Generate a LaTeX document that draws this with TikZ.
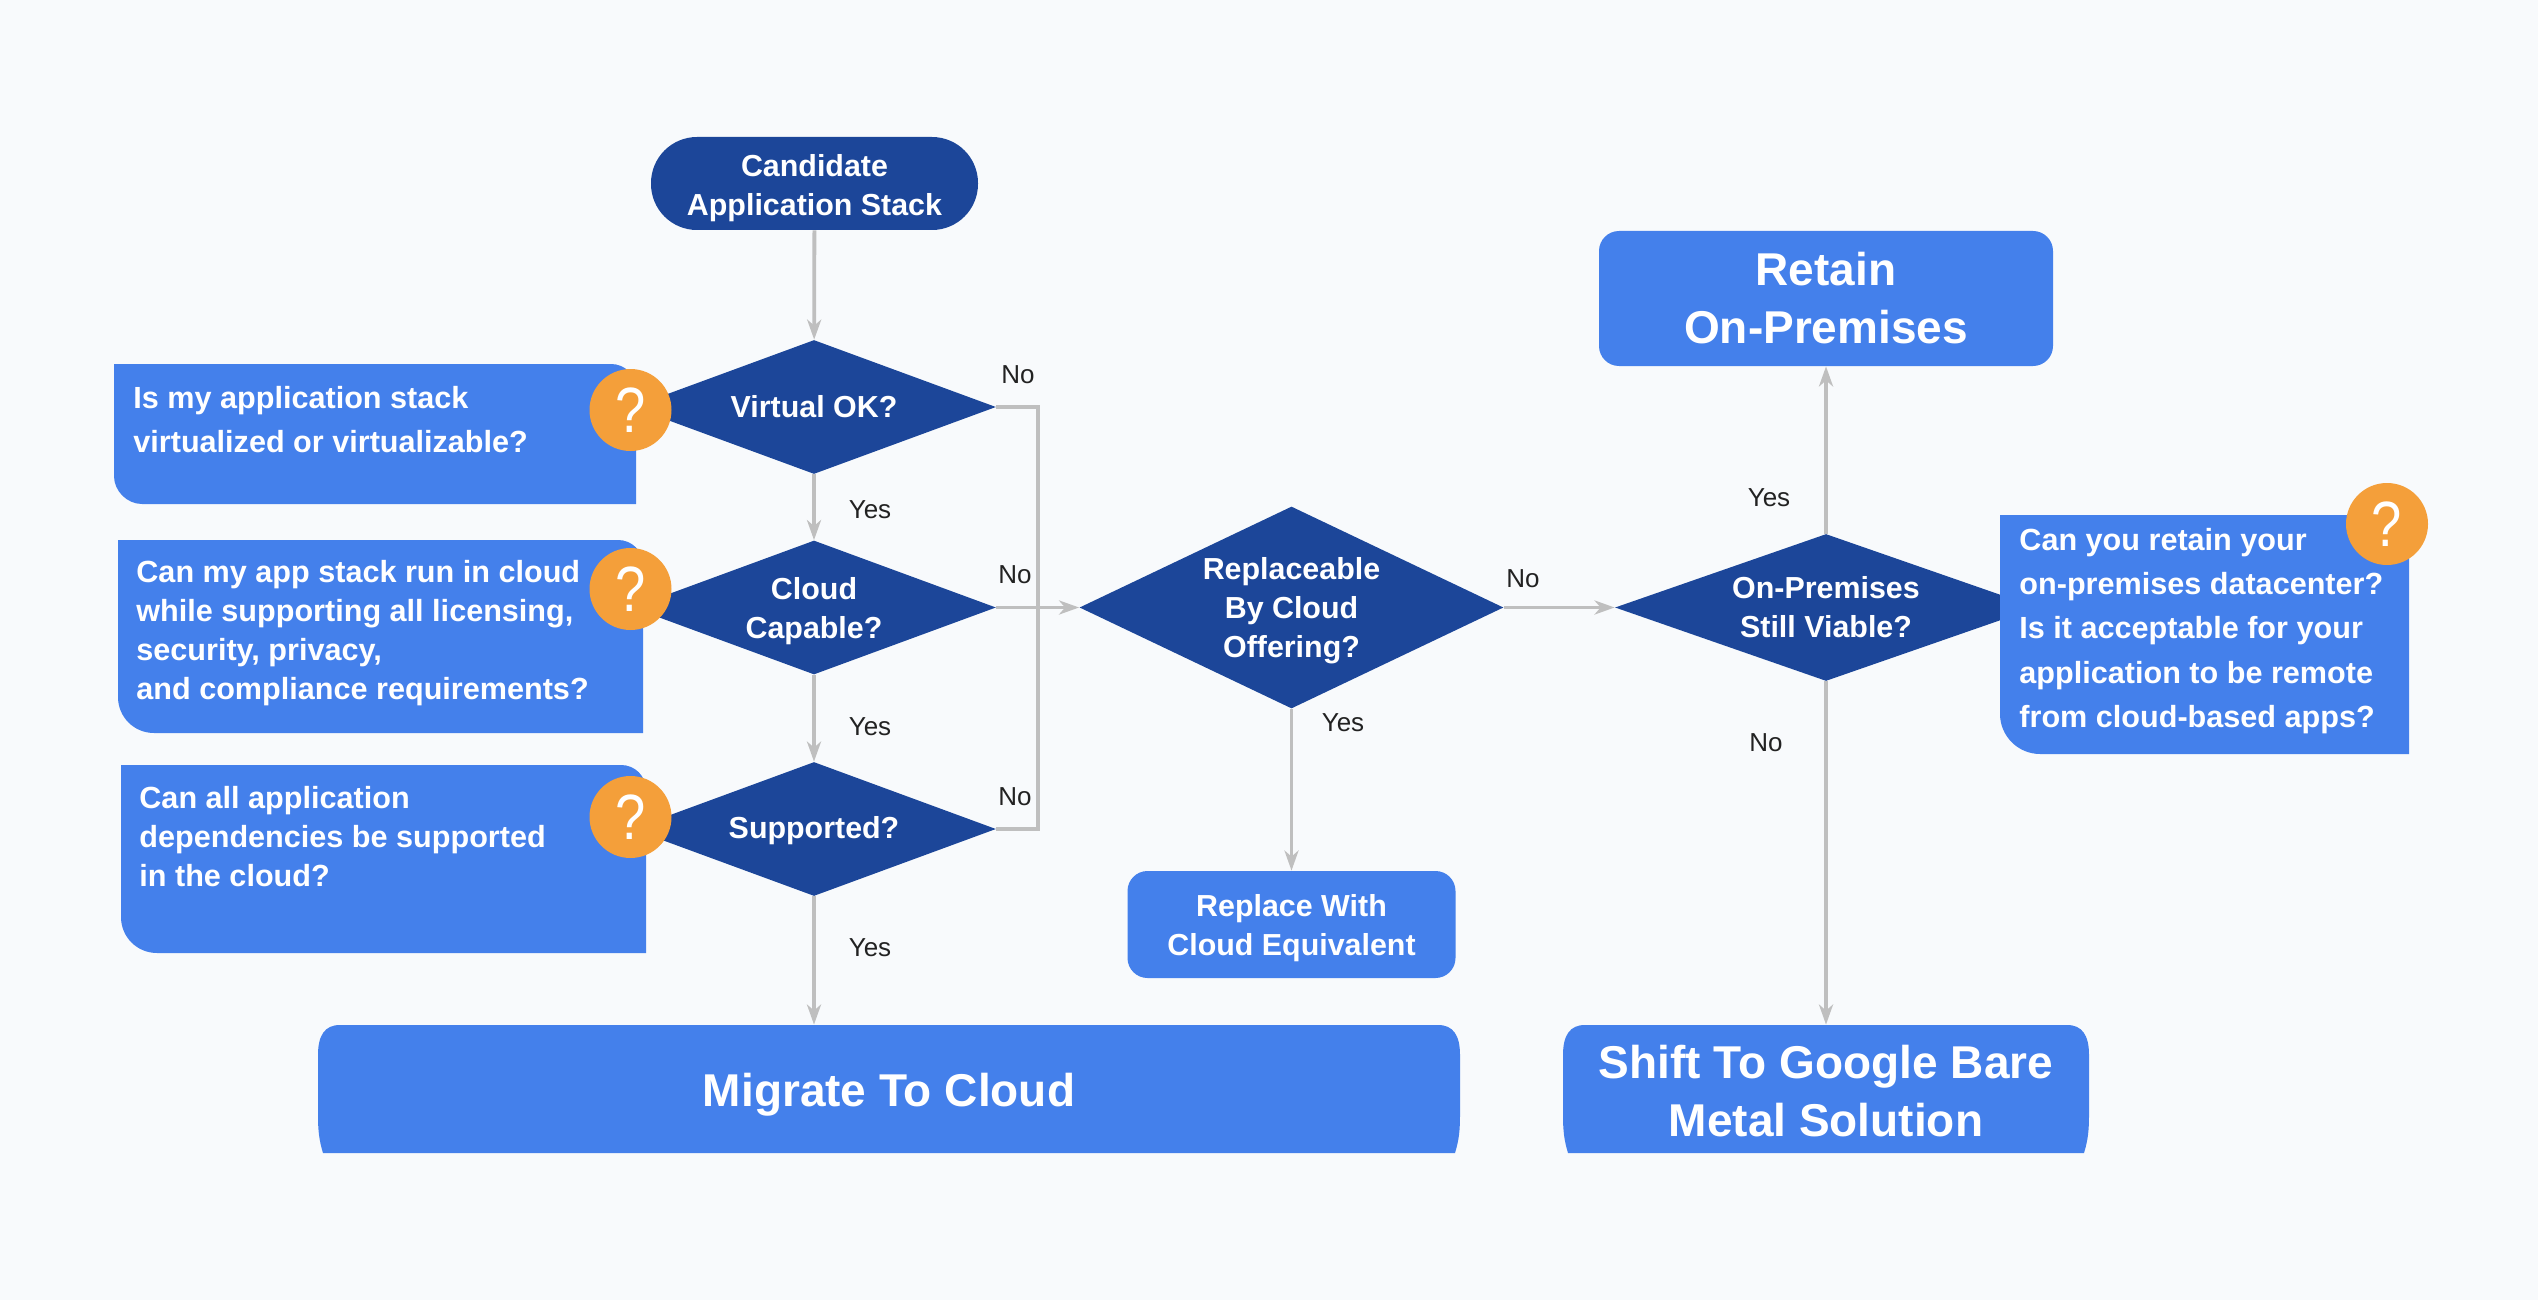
\documentclass[tikz,border=0pt]{standalone}
\usepackage{fontspec}
\setmainfont{Liberation Sans}
\usetikzlibrary{arrows.meta,shapes.geometric}
\definecolor{bgc}{HTML}{F8FAFC}
\definecolor{blueb}{HTML}{4480EB}
\definecolor{darkb}{HTML}{1C4699}
\definecolor{orng}{HTML}{F49F3A}
\definecolor{linec}{HTML}{BFBFBF}
\definecolor{lblc}{HTML}{222222}
\newcommand\lowr[1]{\rule{0pt}{#1}}
\tikzset{
  body/.style={text=white,font=\bfseries\fontsize{15.2}{19.5}\selectfont,align=center,inner sep=0pt},
  big/.style={text=white,font=\bfseries\fontsize{23}{29}\selectfont,align=center,inner sep=0pt},
  dec/.style={body,diamond,fill=darkb,minimum width=#1},
  bluebox/.style={body,rectangle,fill=blueb},
  qtext/.style={text=white,font=\bfseries\fontsize{15.3}{#1}\selectfont,align=left,inner sep=0pt,anchor=west},
  qmark/.style={circle,fill=orng,text=white,minimum size=41pt,inner sep=0pt,font=\fontsize{32}{32}\selectfont},
  lbl/.style={text=lblc,font=\fontsize{13}{13}\selectfont,inner sep=0pt},
  link/.style={draw=linec,line width=1.9pt},
  arr/.style={link,-{Stealth[length=10pt,width=7pt,inset=3pt]}},
}
\begin{document}
\begin{tikzpicture}[x=0.5pt,y=-0.5pt]
\fill[bgc] (0,0) rectangle (2538,1300);
\useasboundingbox (0,0) rectangle (2538,1300);
% decisions
\node[dec=182pt,minimum height=67pt,shape aspect=2.7] (virt) at (814,407) {Virtual OK?};
\node[dec=182pt,minimum height=67pt,shape aspect=2.7] (cap) at (814,607.5) {\lowr{14.2pt}Cloud\\Capable?};
\node[dec=182pt,minimum height=67pt,shape aspect=2.7] (supp) at (814,829) {\lowr{12.6pt}Supported?};
\node[dec=212pt,minimum height=101pt,shape aspect=2.1] (repl) at (1291.5,607.5) {\lowr{14.2pt}Replaceable\\By Cloud\\Offering?};
\node[dec=211pt,minimum height=73.5pt,shape aspect=2.87] (onp) at (1826,607.5) {On-Premises\\Still Viable?};
% terminals
\node[bluebox,fill=darkb,minimum width=163.5pt,minimum height=46.5pt,rounded corners=23pt] (start) at (814.5,183.5) {\lowr{15.9pt}Candidate\\Application Stack};
\node[big,fill=blueb,minimum width=227pt,minimum height=67.5pt,rounded corners=10pt] (retain) at (1826,298.5) {Retain\\On-Premises};
\node[bluebox,minimum width=164pt,minimum height=53.5pt,rounded corners=10pt] (equiv) at (1291.5,924.5) {\lowr{14.2pt}Replace With\\Cloud Equivalent};
\fill[blueb] (323,1153) .. controls (319,1140) and (318,1130) .. (318,1115) -- (318,1055) .. controls (318,1035) and (325,1025) .. (340,1025) -- (1438,1025) .. controls (1453,1025) and (1460,1035) .. (1460,1055) -- (1460,1115) .. controls (1460,1130) and (1459,1140) .. (1455,1153) -- cycle;
\node[big,minimum width=571pt,minimum height=70pt] (migrate) at (889,1095) {Migrate To Cloud};
\fill[blueb] (1568,1153) .. controls (1564,1140) and (1563,1130) .. (1563,1115) -- (1563,1055) .. controls (1563,1035) and (1570,1025) .. (1585,1025) -- (2067,1025) .. controls (2082,1025) and (2089,1035) .. (2089,1055) -- (2089,1115) .. controls (2089,1130) and (2088,1140) .. (2084,1153) -- cycle;
\node[big,minimum width=263pt,minimum height=66pt] (bare) at (1826,1091) {Shift To Google Bare\\Metal Solution};
% question boxes
\fill[blueb] (114,364) -- (611,364) .. controls (625,364) and (636,375) .. (636,389) -- (636,504) -- (142,504) .. controls (127,504) and (114,491) .. (114,476) -- cycle;
\fill[blueb] (118,540) -- (618,540) .. controls (632,540) and (643,551) .. (643,565) -- (643,733) -- (154,733) .. controls (134,733) and (118,717) .. (118,697) -- cycle;
\fill[blueb] (121,765) -- (621,765) .. controls (635,765) and (646,776) .. (646,790) -- (646,953) -- (157,953) .. controls (137,953) and (121,937) .. (121,917) -- cycle;
\fill[blueb] (2000,515) -- (2409,515) -- (2409,754) -- (2040,754) .. controls (2018,754) and (2000,736) .. (2000,714) -- cycle;
\node[qtext=22] (q1) at (133,420) {Is my application stack\\virtualized or virtualizable?};
\node[qtext=19.5] (q2) at (136,633) {Can my app stack run in cloud\\while supporting all licensing,\\security, privacy,\\and compliance requirements?};
\node[qtext=19.5] (q3) at (139,837) {Can all application\\dependencies be supported\\in the cloud?};
\node[qtext=22.2] (q4) at (2019,631) {Can you retain your\\on-premises datacenter?\\Is it acceptable for your\\application to be remote\\from cloud-based apps?};
\node[qmark] (m1) at (630.5,410) {\scalebox{.85}[1]{?}};
\node[qmark] (m2) at (630.5,589) {\scalebox{.85}[1]{?}};
\node[qmark] (m3) at (630.5,817) {\scalebox{.85}[1]{?}};
\node[qmark] (m4) at (2387,524) {\scalebox{.85}[1]{?}};
% connectors
\coordinate (bus) at (1038,607);
\draw[arr] (start) -- (virt);
\draw[arr] (virt) -- (cap);
\draw[arr] (cap) -- (supp);
\draw[arr] (supp.south) -- (supp.south |- migrate.north);
\draw[link] (virt.east) -| (bus) |- (supp.east);
\draw[arr] (cap.east) -- (repl.west);
\draw[arr] (repl.south) -- (equiv.north);
\draw[arr] (repl.east) -- (onp.west);
\draw[arr] (onp.north) -- (retain.south);
\draw[arr] (onp.south) -- (bare.north);
% labels
\node[lbl] (n1) at (1018,375) {No};
\node[lbl] (y1) at (870,510) {Yes};
\node[lbl] (n2) at (1015,575) {No};
\node[lbl] (y2) at (870,727) {Yes};
\node[lbl] (n3) at (1015,797) {No};
\node[lbl] (y3) at (870,948) {Yes};
\node[lbl] (n4) at (1523,579) {No};
\node[lbl] (y4) at (1343,723) {Yes};
\node[lbl] (y5) at (1769,498) {Yes};
\node[lbl] (n5) at (1766,743) {No};
\end{tikzpicture}
\end{document}
